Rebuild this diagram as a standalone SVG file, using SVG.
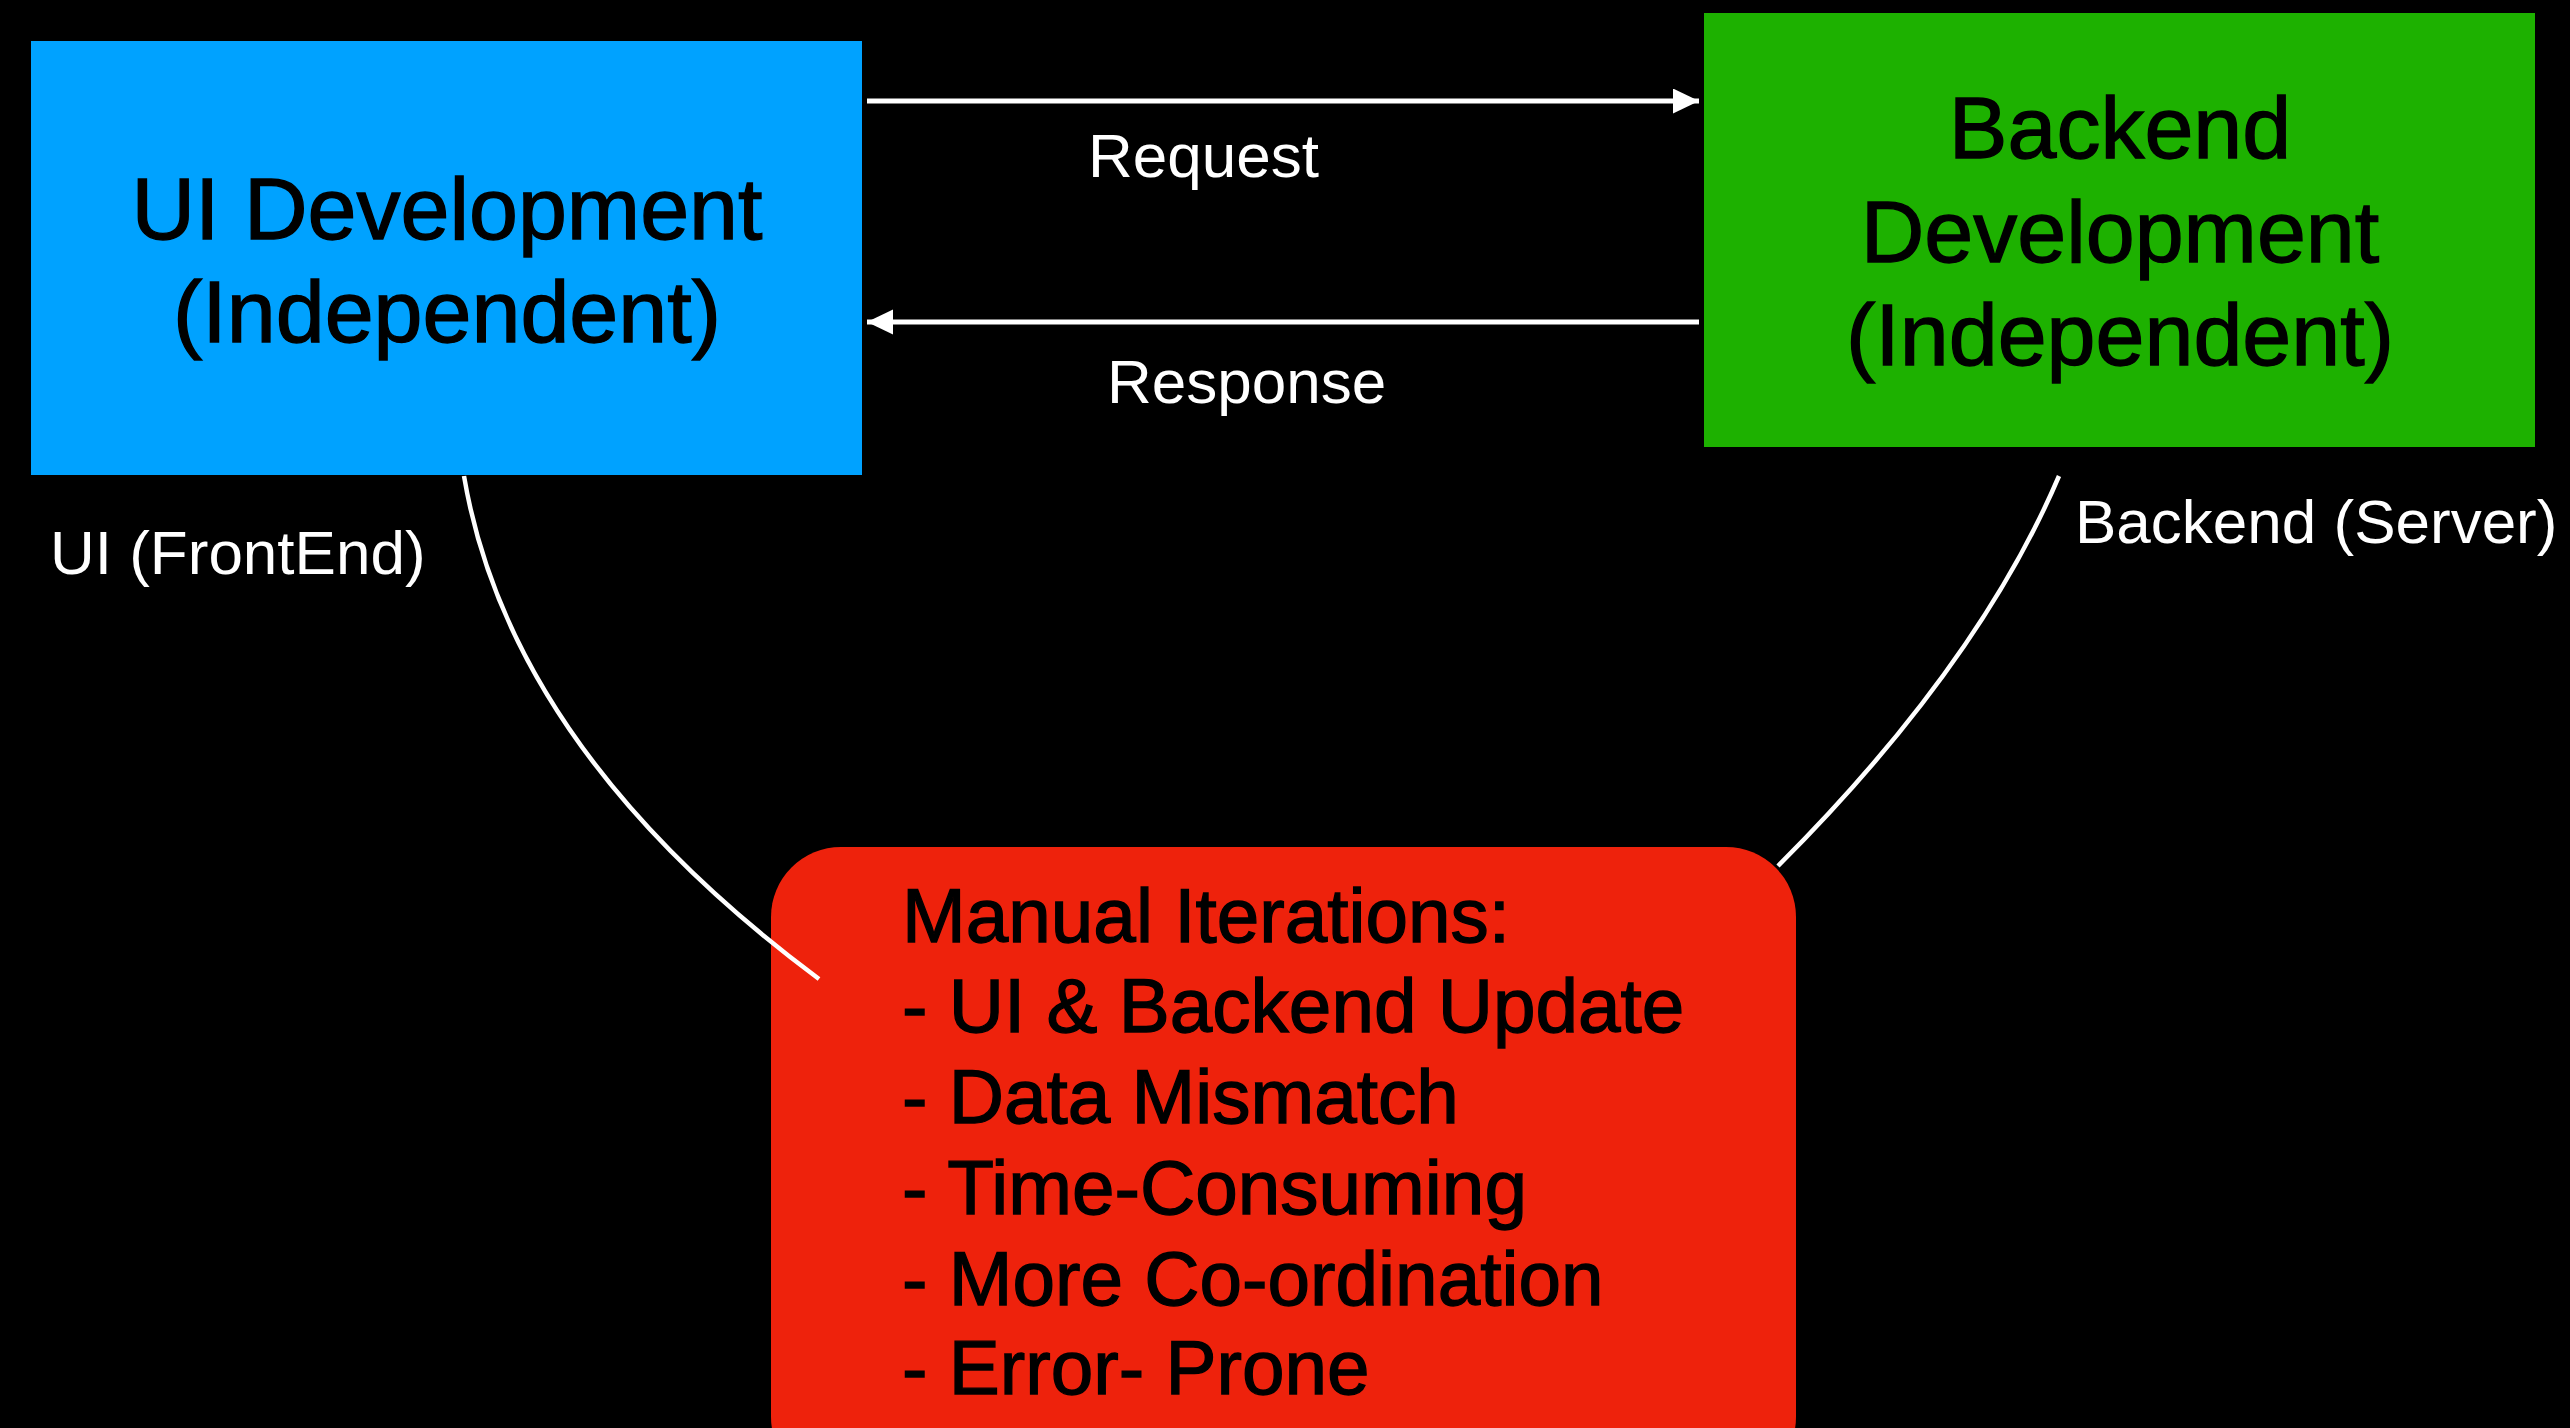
<svg xmlns="http://www.w3.org/2000/svg" width="2570" height="1428" viewBox="0 0 2570 1428">
  <style>
    .box-text { font-family: "Liberation Sans", Arial, sans-serif; font-size: 88px; fill: #000; stroke: #000; stroke-width: 1.3; text-anchor: middle; }
    .list-text { font-family: "Liberation Sans", Arial, sans-serif; font-size: 76.5px; fill: #000; stroke: #000; stroke-width: 1.3; }
    .label { font-family: "Liberation Sans", Arial, sans-serif; font-size: 62px; fill: #fff; }
    .conn { fill: none; stroke: #fff; stroke-width: 4.5; }
    .arrow { fill: none; stroke: #fff; stroke-width: 5; }
  </style>
  <defs>
    <marker id="head" markerUnits="userSpaceOnUse" markerWidth="26" markerHeight="26" refX="26" refY="12.5" orient="auto">
      <path d="M0,0 L26,12.5 L0,25 z" fill="#fff"/>
    </marker>
  </defs>
  <rect x="0" y="0" width="2570" height="1428" fill="#000"/>

  <g id="ui-development">
    <rect x="31" y="41" width="831" height="434" fill="#00A2FF"/>
    <text class="box-text" x="447" y="239">UI Development</text>
    <text class="box-text" x="447" y="342">(Independent)</text>
  </g>

  <g id="backend-development">
    <rect x="1704" y="13" width="831" height="434" fill="#1DB100"/>
    <text class="box-text" x="2120" y="158">Backend</text>
    <text class="box-text" x="2120" y="262">Development</text>
    <text class="box-text" x="2120" y="365">(Independent)</text>
  </g>

  <g id="manual-iterations">
    <rect x="771" y="847" width="1025" height="640" rx="70" ry="70" fill="#EE220C"/>
    <text class="list-text" x="902" y="942">Manual Iterations:</text>
    <text class="list-text" x="902" y="1032">- UI &amp; Backend Update</text>
    <text class="list-text" x="902" y="1123">- Data Mismatch</text>
    <text class="list-text" x="902" y="1214">- Time-Consuming</text>
    <text class="list-text" x="902" y="1305">- More Co-ordination</text>
    <text class="list-text" x="902" y="1394">- Error- Prone</text>
  </g>

  <g id="connectors">
    <line class="arrow" x1="867" y1="101" x2="1699" y2="101" marker-end="url(#head)"/>
    <line class="arrow" x1="1699" y1="322" x2="867" y2="322" marker-end="url(#head)"/>
    <path class="conn" d="M464,476 Q510,749 819,979"/>
    <path class="conn" d="M2059,476 Q1978,666 1778,866"/>
  </g>

  <g id="labels">
    <text class="label" x="1088" y="177">Request</text>
    <text class="label" x="1107" y="403">Response</text>
    <text class="label" x="50" y="574">UI (FrontEnd)</text>
    <text class="label" x="2075" y="543">Backend (Server)</text>
  </g>
</svg>
